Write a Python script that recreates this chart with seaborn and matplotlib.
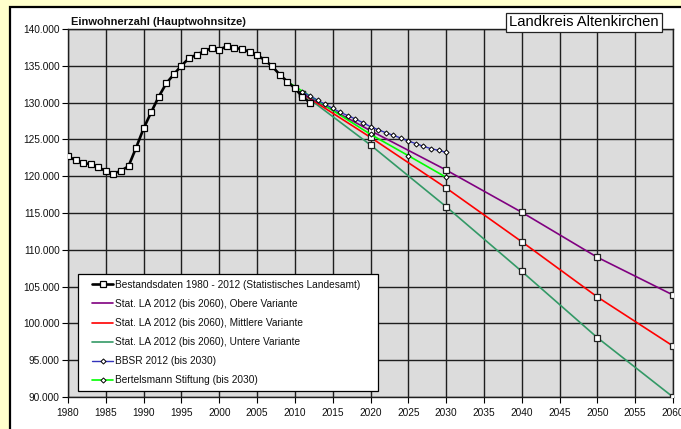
import matplotlib
matplotlib.use("Agg")
import matplotlib.pyplot as plt
import seaborn as sns
import numpy as np
from matplotlib.ticker import FuncFormatter, MultipleLocator
from matplotlib.patches import Rectangle
from matplotlib.lines import Line2D
from matplotlib.legend_handler import HandlerLine2D

# ---------------- data ----------------
years_bestand = list(range(1980, 2013))
bestand = [122700, 122170, 121810, 121630, 121220, 120680, 120360, 120720,
           121360, 123850, 126500, 128690, 130810, 132620, 133850, 135020,
           136020, 136520, 136970, 137420, 137190, 137650, 137420, 137290,
           136880, 136470, 135790, 134930, 133800, 132850, 131940, 130800,
           129990]

years_la = [2011, 2020, 2030, 2040, 2050, 2060]
la_obere = [131200, 126190, 120840, 115100, 108980, 103860]
la_mittlere = [131200, 125280, 118400, 111100, 103590, 96930]
la_untere = [131200, 124240, 115860, 107070, 98060, 90000]

years_bbsr = list(range(2011, 2031))
bbsr = [131480, 130900, 130330, 129760, 129220, 128680, 128230, 127770,
        127270, 126730, 126320, 125920, 125550, 125190, 124780, 124420,
        124060, 123740, 123510, 123240]

years_bertels = [2009, 2020, 2025, 2030]
bertels = [132850, 125690, 122790, 119850]

labels = ["Bestandsdaten 1980 - 2012 (Statistisches Landesamt)",
          "Stat. LA 2012 (bis 2060), Obere Variante",
          "Stat. LA 2012 (bis 2060), Mittlere Variante",
          "Stat. LA 2012 (bis 2060), Untere Variante",
          "BBSR 2012 (bis 2030)",
          "Bertelsmann Stiftung (bis 2030)"]

title = "Einwohnerzahl (Hauptwohnsitze)"
region = "Landkreis Altenkirchen"

# ---------------- style ----------------
sns.set_style("white")
plt.rcParams['font.family'] = ['Liberation Sans', 'DejaVu Sans']

W, H = 681, 429
fig = plt.figure(figsize=(W / 100, H / 100), dpi=100, facecolor="#FFFFCC")

# white chart area with black frame (behind the axes)
frame = Rectangle((10 / W, -0.05), 1.1, (H - 7) / H + 0.05,
                  transform=fig.transFigure, facecolor="white",
                  edgecolor="black", linewidth=1.6, zorder=-10)
fig.add_artist(frame)

ax = fig.add_axes([68 / W, (H - 397) / H, (673 - 68) / W, (397 - 29) / H])
ax.set_zorder(1)
ax.set_facecolor("#DCDCDC")

c_obere = "#800080"
c_mittel = "#FF0000"
c_unter = "#339966"
c_bbsr = "#3333BB"
c_bert = "#00FF00"

sq = dict(marker="s", markersize=4.3, markerfacecolor="white",
          markeredgecolor="#222222", markeredgewidth=0.9)
dm = dict(marker="D", markersize=2.6, markerfacecolor="white",
          markeredgecolor="black", markeredgewidth=0.7)

sns.lineplot(x=years_la, y=la_untere, ax=ax, color=c_unter, linewidth=1.2, zorder=3, **sq)
sns.lineplot(x=years_la, y=la_mittlere, ax=ax, color=c_mittel, linewidth=1.2, zorder=3, **sq)
sns.lineplot(x=years_la, y=la_obere, ax=ax, color=c_obere, linewidth=1.2, zorder=3, **sq)
sns.lineplot(x=years_bertels, y=bertels, ax=ax, color=c_bert, linewidth=1.2, zorder=4, **dm)
sns.lineplot(x=years_bbsr, y=bbsr, ax=ax, color=c_bbsr, linewidth=1.0, zorder=4, **dm)
sns.lineplot(x=years_bestand, y=bestand, ax=ax, color="black", linewidth=1.9, zorder=5,
             marker="s", markersize=4.6, markerfacecolor="white",
             markeredgecolor="black", markeredgewidth=0.9)

ax.set_xlim(1980, 2060)
ax.set_ylim(90000, 140000)
ax.xaxis.set_major_locator(MultipleLocator(5))
ax.yaxis.set_major_locator(MultipleLocator(5000))
ax.yaxis.set_major_formatter(FuncFormatter(lambda v, p: f"{int(round(v)):,}".replace(",", ".")))
ax.grid(True, color="#1e1e1e", linewidth=1.0)
ax.set_axisbelow(True)
for s in ax.spines.values():
    s.set_color("#1e1e1e")
    s.set_linewidth(1.0)
ax.tick_params(axis="both", which="major", direction="out", length=4, width=0.8,
               color="black", labelsize=7.3, labelcolor="#111111", pad=2,
               bottom=True, left=True)
ax.tick_params(axis="x", pad=4)
ax.set_xlabel("")
ax.set_ylabel("")

# legend
handles = [
    Line2D([], [], color="black", linewidth=1.9, marker="s", markersize=4.6,
           markerfacecolor="white", markeredgecolor="black", markeredgewidth=0.9),
    Line2D([], [], color=c_obere, linewidth=1.2),
    Line2D([], [], color=c_mittel, linewidth=1.2),
    Line2D([], [], color=c_unter, linewidth=1.2),
    Line2D([], [], color=c_bbsr, linewidth=1.0, **dm),
    Line2D([], [], color=c_bert, linewidth=1.2, **dm),
]
leg = ax.legend(handles, labels, loc="lower left",
                bbox_to_anchor=(10 / 605, 6 / 368, 300 / 605, 0.3),
                mode="expand", fontsize=7.3, frameon=True, fancybox=False,
                framealpha=1, edgecolor="black", borderpad=0.55,
                labelspacing=0.9, handlelength=2.9, handletextpad=0.2,
                borderaxespad=0, markerscale=1,
                handler_map={Line2D: HandlerLine2D(xpad=0.84)})
leg.get_frame().set_linewidth(0.9)
leg.set_zorder(10)
for t in leg.get_texts():
    t.set_color("#111111")

fig.text(71 / W, 1 - 22 / H, title, fontsize=8.0, fontweight="bold",
         ha="left", va="center", color="#111111", zorder=5)
fig.text(584 / W, 1 - 22.5 / H, region, fontsize=10.6, ha="center", va="center",
         color="black", zorder=5,
         bbox=dict(boxstyle="square,pad=0.2", facecolor="white",
                   edgecolor="#222222", linewidth=0.9))

fig.savefig("out.png", dpi=100, facecolor=fig.get_facecolor())
